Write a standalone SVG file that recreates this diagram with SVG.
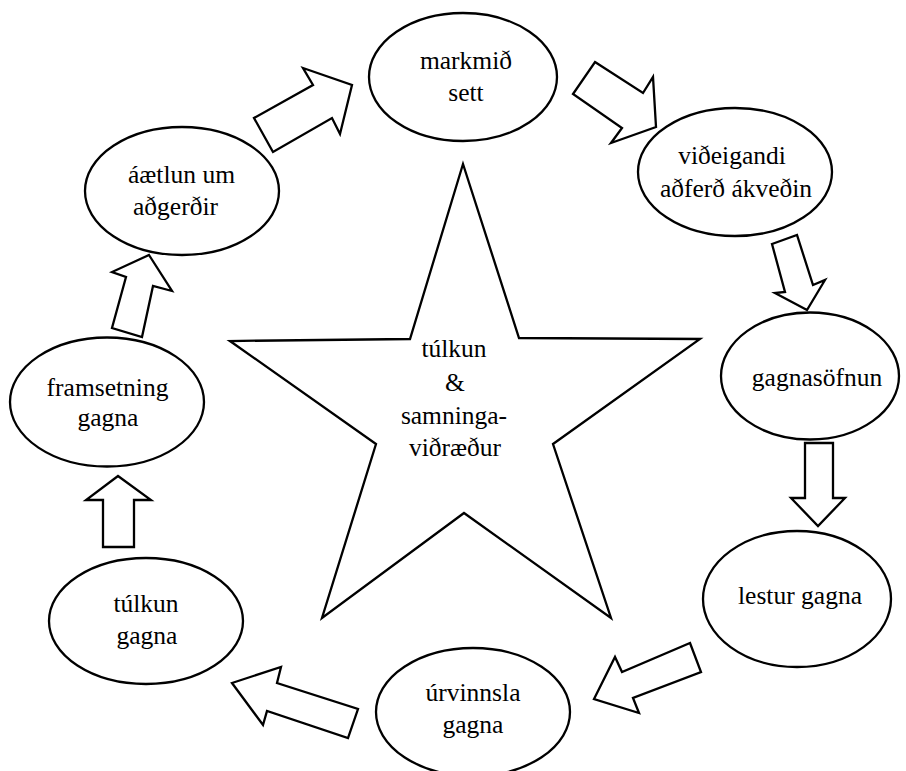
<svg xmlns="http://www.w3.org/2000/svg" width="906" height="771" viewBox="0 0 906 771">
<style>
  .shape { fill: #ffffff; stroke: #000000; stroke-width: 2.3; stroke-linejoin: miter; }
  .arrow { fill: #ffffff; stroke: #000000; stroke-width: 2.3; stroke-linejoin: miter; }
  .lbl { font-size: 25.5px; fill: #000000; text-anchor: middle; }
</style>
<rect x="0" y="0" width="906" height="771" fill="#ffffff"/>

<g font-family="Liberation Serif, serif">
<g id="star">
  <polygon class="shape" points="463,164 519,338 700,339 553,444 611,618 464,513 322,618 376,444 230,341 410,339"/>
  <text class="lbl" x="454" y="357">túlkun</text>
  <text class="lbl" x="455" y="391">&amp;</text>
  <text class="lbl" x="454" y="424">samninga-</text>
  <text class="lbl" x="455" y="456">viðræður</text>
</g>

<g id="markmid">
  <ellipse class="shape" cx="463" cy="77" rx="94" ry="64"/>
  <text class="lbl" x="466" y="69">markmið</text>
  <text class="lbl" x="466" y="101">sett</text>
</g>

<g id="videigandi">
  <ellipse class="shape" cx="735" cy="172" rx="97" ry="64"/>
  <text class="lbl" x="732" y="164">viðeigandi</text>
  <text class="lbl" x="736" y="197">aðferð ákveðin</text>
</g>

<g id="gagnasofnun">
  <ellipse class="shape" cx="810" cy="376" rx="89" ry="63.5"/>
  <text class="lbl" x="817" y="386">gagnasöfnun</text>
</g>

<g id="lestur">
  <ellipse class="shape" cx="797" cy="599" rx="94" ry="68"/>
  <text class="lbl" x="800" y="604">lestur gagna</text>
</g>

<g id="urvinnsla">
  <ellipse class="shape" cx="473" cy="712" rx="97" ry="64"/>
  <text class="lbl" x="473" y="701">úrvinnsla</text>
  <text class="lbl" x="473" y="733">gagna</text>
</g>

<g id="tulkun">
  <ellipse class="shape" cx="146" cy="621" rx="97" ry="63"/>
  <text class="lbl" x="146" y="612">túlkun</text>
  <text class="lbl" x="147" y="644">gagna</text>
</g>

<g id="framsetning">
  <ellipse class="shape" cx="107" cy="402" rx="97" ry="64.5"/>
  <text class="lbl" x="107.5" y="396">framsetning</text>
  <text class="lbl" x="108" y="426">gagna</text>
</g>

<g id="aaetlun">
  <ellipse class="shape" cx="182" cy="191" rx="97" ry="64"/>
  <text class="lbl" x="181.5" y="183">áætlun um</text>
  <text class="lbl" x="175.5" y="215">aðgerðir</text>
</g>
</g>

<g id="connectors">
  <polygon class="arrow" points="273,152 254,118 313,85 303,68 352,85 340,134 332,118"/>
  <polygon class="arrow" points="595,62 643,93 653,77 656,127 611,143 622,128 573,94"/>
  <polygon class="arrow" points="772,244 797,235 813,285 825,280 807,310 775,293 785,292"/>
  <polygon class="arrow" points="805,443 833,443 833,498 845,498 818,526 791,498 805,498"/>
  <polygon class="arrow" points="690,643 701,672 633,698 639,713 594,699 615,657 622,672"/>
  <polygon class="arrow" points="232,683 281,667 277,683 358,709 348,738 267,711 263,725"/>
  <polygon class="arrow" points="118,476 151,500 134,500 134,547 103,547 103,500 86,500"/>
  <polygon class="arrow" points="149,255 172,291 153,286 142,337 112,328 126,277 112,272"/>
</g>
</svg>
